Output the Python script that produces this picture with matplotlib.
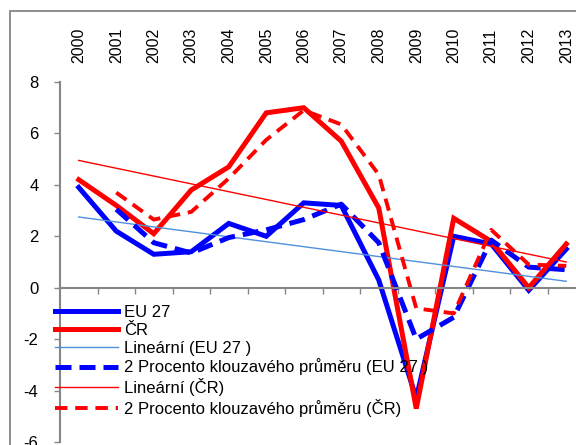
import matplotlib.pyplot as plt
from matplotlib.patches import Rectangle

years = [str(y) for y in range(2000, 2014)]
eu27 = [3.9, 2.2, 1.3, 1.4, 2.5, 2.0, 3.3, 3.2, 0.3, -4.3, 2.0, 1.7, -0.1, 1.5]
cr = [4.2, 3.2, 2.1, 3.8, 4.7, 6.8, 7.0, 5.7, 3.1, -4.7, 2.7, 1.8, 0.0, 1.7]
# 2-period moving averages as drawn (start at 2001)
eu27_ma = [3.05, 1.75, 1.35, 1.95, 2.25, 2.65, 3.25, 1.75, -2.0, -1.15, 1.85, 0.8, 0.7]
cr_ma = [3.7, 2.65, 2.95, 4.25, 5.75, 6.9, 6.35, 4.4, -0.8, -1.0, 2.25, 0.9, 0.85]
# linear trend end points (2000, 2013)
eu27_lin = [2.75, 0.25]
cr_lin = [4.95, 1.0]

labels = ['EU 27', 'ČR', 'Lineární (EU 27 )',
          '2 Procento klouzavého průměru (EU 27 )', 'Lineární (ČR)',
          '2 Procento klouzavého průměru (ČR)']

plt.rcParams['font.family'] = ['Liberation Sans', 'DejaVu Sans']
plt.rcParams['font.size'] = 11
plt.rcParams['axes.unicode_minus'] = False

fig = plt.figure(figsize=(5.76, 4.45), dpi=100)
ax = fig.add_axes([60 / 576, 3 / 445, 525 / 576, 360 / 445])

x = list(range(len(years)))
h1, = ax.plot(x, eu27, color='#0000ff', lw=3.6, solid_joinstyle='miter')
h2, = ax.plot(x, cr, color='#ff0000', lw=3.6, solid_joinstyle='miter')
h3, = ax.plot([x[0], x[-1]], eu27_lin, color='#4f8fdc', lw=1.0)
h4, = ax.plot(x[1:], eu27_ma, color='#0000ff', lw=3.6, ls=(0, (3.2, 1.6)))
h5, = ax.plot([x[0], x[-1]], cr_lin, color='#ff0000', lw=1.0)
h6, = ax.plot(x[1:], cr_ma, color='#ff0000', lw=2.8, ls=(0, (3.2, 2.0)))

ax.set_xlim(-0.5, 13.5)
ax.set_ylim(-6, 8)
ax.set_yticks(range(-6, 9, 2))

for s in ['top', 'right']:
    ax.spines[s].set_visible(False)
ax.spines['bottom'].set_position(('data', 0))
for s in ['left', 'bottom']:
    ax.spines[s].set_color('#868686')
    ax.spines[s].set_linewidth(1.5)

ax.set_xticks([i + 0.5 for i in range(13)])
ax.set_xticklabels([])
ax.tick_params(axis='x', length=4.5, width=1, color='#868686')
ax.tick_params(axis='y', length=4.5, width=1, color='#868686', pad=11,
               labelsize=12)

top = ax.secondary_xaxis('top')
top.set_xticks(x)
top.set_xticklabels(years, rotation=90, fontsize=11.5)
top.tick_params(length=0, pad=14)
top.spines['top'].set_visible(False)

fig.legend([h1, h2, h3, h4, h5, h6], labels, loc='upper left',
           bbox_to_anchor=(55 / 576, 1 - 305 / 445), frameon=False,
           borderpad=0, borderaxespad=0, handlelength=3.8,
           handletextpad=0.35, labelspacing=0.17, fontsize=12)

fig.patches.append(Rectangle((10 / 576, -0.1), 1.2, 1 - 11 / 445 + 0.1,
                             transform=fig.transFigure, fill=False,
                             edgecolor='#868686', lw=1.3))

fig.savefig('out.png', dpi=100)
